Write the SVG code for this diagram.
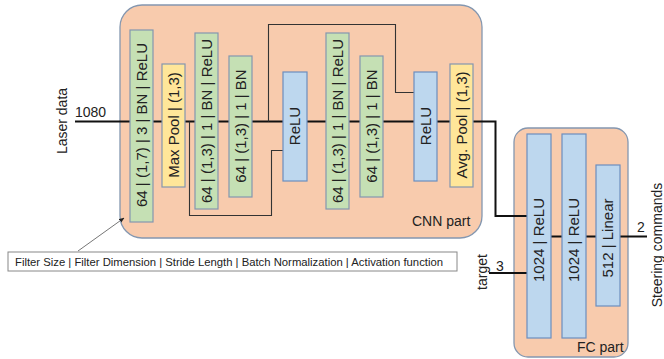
<svg xmlns="http://www.w3.org/2000/svg" width="664" height="359" viewBox="0 0 664 359">
<defs>
<style>
.part{fill:#F8CBAD;stroke:#8497B0;stroke-width:1.3}
.g{fill:#C5E0B4;stroke:#8497B0;stroke-width:1.2}
.y{fill:#FFE699;stroke:#8497B0;stroke-width:1.2}
.b{fill:#BDD7EE;stroke:#6C8EBF;stroke-width:1.2}
text{font-family:"Liberation Sans",Arial,sans-serif;fill:#222}
.t{font-size:15px;text-anchor:middle}
.lbl{font-size:14px}
.main{fill:none;stroke:#111;stroke-width:2}
.skip{fill:none;stroke:#333;stroke-width:1.1}
</style>
<marker id="ah" viewBox="0 0 10 10" refX="9" refY="5" markerWidth="6" markerHeight="6" orient="auto">
<path d="M0,1 L10,5 L0,9 z" fill="#222"/>
</marker>
</defs>
<rect width="664" height="359" fill="#fff"/>
<g id="cnn-part"><rect class="part" x="120" y="5" width="362" height="233" rx="22"/><text class="lbl" x="412" y="226">CNN part</text></g>
<g id="fc-part"><rect class="part" x="514" y="128" width="114" height="229" rx="14"/><text class="lbl" x="577" y="352">FC part</text></g>
<g id="connectors">
<path class="main" d="M75,121.5 H473 M473,121.5 H495.5 V216 H527"/>
<path class="main" d="M489,273 H527 M551,236.5 H562 M586,236.5 H596 M620,236.5 H647"/>
<path class="skip" d="M189.5,121.5 V215.5 H271.5 V150.5 H283"/>
<path class="skip" d="M268.5,121.5 V24.5 H395.5 V92.5 H414"/>
<line x1="78" y1="251" x2="124" y2="218" stroke="#666" stroke-width="0.9" marker-end="url(#ah)"/>
</g>
<g id="conv1"><rect class="g" x="130" y="30" width="23" height="192"/><text class="t" transform="translate(141.5,125) rotate(-90)" dy="0.35em">64 | (1,7) | 3 | BN | ReLU</text></g>
<g id="maxpool"><rect class="y" x="162" y="64" width="23" height="123"/><text class="t" transform="translate(173.5,125) rotate(-90)" dy="0.35em">Max Pool | (1,3)</text></g>
<g id="conv2"><rect class="g" x="195" y="33" width="23" height="176"/><text class="t" transform="translate(206.5,121) rotate(-90)" dy="0.35em">64 | (1,3) | 1 | BN | ReLU</text></g>
<g id="conv3"><rect class="g" x="229" y="56" width="23" height="141"/><text class="t" transform="translate(240.5,126) rotate(-90)" dy="0.35em">64 | (1,3) | 1 | BN</text></g>
<g id="relu1"><rect class="b" x="283" y="72" width="24" height="109"/><text class="t" transform="translate(295,126) rotate(-90)" dy="0.35em">ReLU</text></g>
<g id="conv4"><rect class="g" x="326" y="33" width="23" height="176"/><text class="t" transform="translate(337.5,121) rotate(-90)" dy="0.35em">64 | (1,3) | 1 | BN | ReLU</text></g>
<g id="conv5"><rect class="g" x="360" y="56" width="23" height="141"/><text class="t" transform="translate(371.5,126) rotate(-90)" dy="0.35em">64 | (1,3) | 1 | BN</text></g>
<g id="relu2"><rect class="b" x="414" y="72" width="23" height="109"/><text class="t" transform="translate(425.5,126) rotate(-90)" dy="0.35em">ReLU</text></g>
<g id="avgpool"><rect class="y" x="450" y="64" width="23" height="123"/><text class="t" transform="translate(461.5,125) rotate(-90)" dy="0.35em">Avg. Pool | (1,3)</text></g>
<g id="fc1"><rect class="b" x="527" y="134" width="24" height="204"/><text class="t" transform="translate(539,240) rotate(-90)" dy="0.35em">1024 | ReLU</text></g>
<g id="fc2"><rect class="b" x="562" y="134" width="24" height="204"/><text class="t" transform="translate(574,240) rotate(-90)" dy="0.35em">1024 | ReLU</text></g>
<g id="fc3"><rect class="b" x="596" y="165" width="24" height="141"/><text class="t" transform="translate(608,238) rotate(-90)" dy="0.35em">512 | Linear</text></g>
<g id="labels">
<text class="lbl" transform="translate(62.5,121) rotate(-90)" text-anchor="middle" dy="0.35em">Laser data</text>
<text class="lbl" x="75" y="117">1080</text>
<text class="lbl" transform="translate(482,272) rotate(-90)" text-anchor="middle" dy="0.35em">target</text>
<text class="lbl" x="496" y="271">3</text>
<text class="lbl" x="637" y="232">2</text>
<text class="lbl" transform="translate(657,245) rotate(-90)" text-anchor="middle" dy="0.35em">Steering commands</text>
</g>
<g id="legend"><rect x="8" y="252" width="449" height="19" fill="#fff" stroke="#888" stroke-width="1"/><text x="15" y="266" font-size="11" textLength="428" lengthAdjust="spacingAndGlyphs">Filter Size | Filter Dimension | Stride Length | Batch Normalization | Activation function</text></g>
</svg>
